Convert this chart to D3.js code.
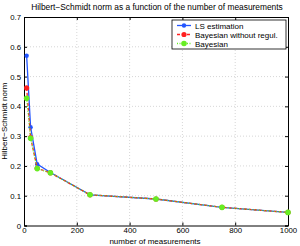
<!DOCTYPE html>
<html>
<head>
<meta charset="utf-8">
<script src="https://cdn.jsdelivr.net/npm/d3@7"></script>
<style>
body { margin: 0; background: #fff; }
text { font-family: "Liberation Sans", Arial, sans-serif; }
</style>
</head>
<body>
<div id="chart"></div>
<script>
// data
var measurements = [10, 25, 50, 100, 250, 500, 750, 1000];
var lsEstimation = [0.570, 0.330, 0.206, 0.178, 0.103, 0.089, 0.061, 0.044];
var bayesNoReg = [0.462, 0.295, 0.192, 0.177, 0.103, 0.089, 0.061, 0.044];
var bayesian = [0.427, 0.293, 0.191, 0.177, 0.103, 0.089, 0.061, 0.044];
var xTicks = [0, 200, 400, 600, 800, 1000];
var yTicks = [0, 0.1, 0.2, 0.3, 0.4, 0.5, 0.6, 0.7];

var width = 300, height = 246;
var plotLeft = 24, plotRight = 288, plotTop = 17, plotBottom = 225.5;

var svg = d3.select('#chart').append('svg')
	.attr('width', width)
	.attr('height', height);

var x = d3.scaleLinear().domain([0, 1000]).range([plotLeft, plotRight]);
var y = d3.scaleLinear().domain([0, 0.7]).range([plotBottom, plotTop]);

// grid
svg.append('g').selectAll('line').data(xTicks.slice(1, -1)).enter().append('line')
	.attr('x1', function (d) { return x(d); }).attr('x2', function (d) { return x(d); })
	.attr('y1', plotTop).attr('y2', plotBottom)
	.attr('stroke', '#bbb').attr('stroke-width', 0.6).attr('stroke-dasharray', '1,2');
svg.append('g').selectAll('line').data(yTicks.slice(1, -1)).enter().append('line')
	.attr('y1', function (d) { return y(d); }).attr('y2', function (d) { return y(d); })
	.attr('x1', plotLeft).attr('x2', plotRight)
	.attr('stroke', '#bbb').attr('stroke-width', 0.6).attr('stroke-dasharray', '1,2');

// axes
svg.append('g').attr('transform', 'translate(0,' + plotBottom + ')')
	.call(d3.axisBottom(x).tickValues(xTicks).tickSize(-3).tickPadding(2).tickFormat(d3.format('d')));
svg.append('g').attr('transform', 'translate(' + plotLeft + ',0)')
	.call(d3.axisLeft(y).tickValues(yTicks).tickSize(-3).tickPadding(3).tickFormat(function (d) { return d === 0 ? '0' : d3.format('.1f')(d); }));
svg.append('g').attr('transform', 'translate(0,' + plotTop + ')')
	.call(d3.axisTop(x).tickValues(xTicks).tickSize(-3).tickFormat(''));
svg.append('g').attr('transform', 'translate(' + plotRight + ',0)')
	.call(d3.axisRight(y).tickValues(yTicks).tickSize(-3).tickFormat(''));
svg.selectAll('.domain').attr('stroke', '#000').attr('stroke-width', 1);
svg.selectAll('.tick text').attr('font-size', 7.8).attr('fill', '#000')
	.style('font-family', '"Liberation Sans", Arial, sans-serif');

// series
var series = [
	{ name: 'LS estimation', values: lsEstimation, color: '#2255ff', dash: null, r: 2.2 },
	{ name: 'Bayesian without regul.', values: bayesNoReg, color: '#ff2020', dash: '3,2', r: 2.6 },
	{ name: 'Bayesian', values: bayesian, color: '#66ee22', dash: '1,1.5', r: 2.8 }
];

var line = d3.line()
	.x(function (d, i) { return x(measurements[i]); })
	.y(function (d) { return y(d); });

series.forEach(function (s) {
	svg.append('path')
		.datum(s.values)
		.attr('d', line)
		.attr('fill', 'none')
		.attr('stroke', s.color)
		.attr('stroke-width', 1.3)
		.attr('stroke-dasharray', s.dash);
	svg.append('g').selectAll('circle').data(s.values).enter().append('circle')
		.attr('cx', function (d, i) { return x(measurements[i]); })
		.attr('cy', function (d) { return y(d); })
		.attr('r', s.r)
		.attr('fill', s.color);
});

// legend
var legend = svg.append('g').attr('transform', 'translate(172,20)');
legend.append('rect')
	.attr('width', 114).attr('height', 29)
	.attr('fill', '#fff').attr('stroke', '#000').attr('stroke-width', 0.8);
series.forEach(function (s, i) {
	var g = legend.append('g').attr('transform', 'translate(0,' + (5.5 + i * 9) + ')');
	g.append('line').attr('x1', 5).attr('x2', 19).attr('y1', 0).attr('y2', 0)
		.attr('stroke', s.color).attr('stroke-width', 1.3).attr('stroke-dasharray', s.dash);
	g.append('circle').attr('cx', 12).attr('cy', 0).attr('r', s.r).attr('fill', s.color);
	g.append('text').attr('x', 23).attr('y', 3).attr('font-size', 8).text(s.name);
});

// labels
svg.append('text').attr('x', 157).attr('y', 9.5).attr('text-anchor', 'middle')
	.attr('font-size', 8.4).text('Hilbert\u2212Schmidt norm as a function of the number of measurements');
svg.append('text').attr('x', 155).attr('y', 244).attr('text-anchor', 'middle')
	.attr('font-size', 8).text('number of measurements');
svg.append('text').attr('transform', 'translate(7,' + ((plotTop + plotBottom) / 2) + ') rotate(-90)')
	.attr('text-anchor', 'middle').attr('font-size', 8).text('Hilbert\u2212Schmidt norm');
</script>
</body>
</html>
